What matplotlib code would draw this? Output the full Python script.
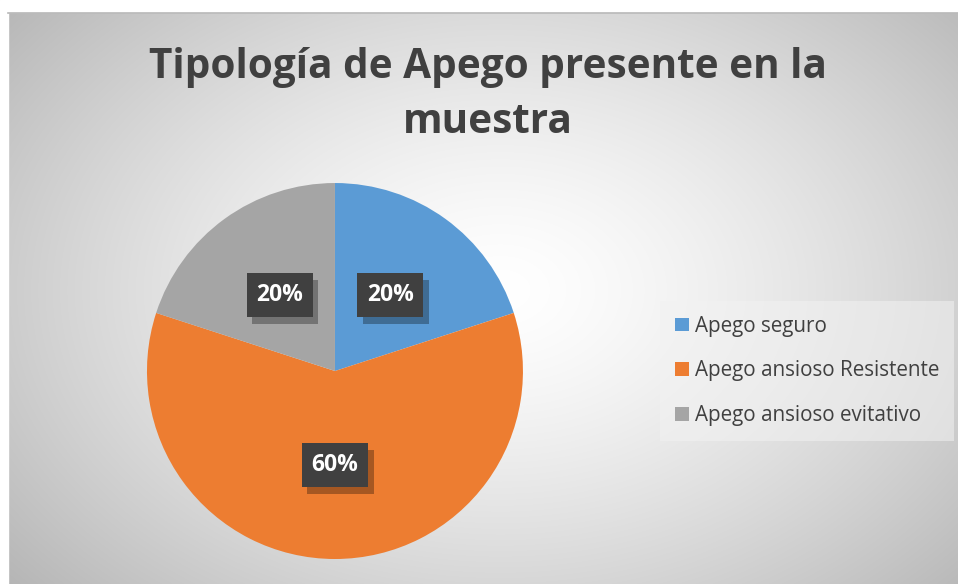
import numpy as np
import matplotlib.pyplot as plt
import matplotlib.patheffects as pe
from matplotlib.patches import Rectangle

# data
labels = ["Apego seguro", "Apego ansioso Resistente", "Apego ansioso evitativo"]
values = [20, 60, 20]
colors = ["#5B9BD5", "#ED7D31", "#A5A5A5"]
title = "Tipología de Apego presente en la\nmuestra"

plt.rcParams['font.family'] = ['Open Sans', 'DejaVu Sans']

fig = plt.figure(figsize=(9.58, 5.84), dpi=100)

# radial gradient background of the chart area
bg = fig.add_axes([0, 0, 1, 1])
yy, xx = np.mgrid[0:584, 0:958]
r = np.sqrt(((xx - 500) / 600.0) ** 2 + ((yy - 290) / 420.0) ** 2)
shade = 1.0 - 0.26 * np.clip(r, 0, 1.2) ** 1.4
img = np.dstack([shade, shade, shade])
bg.imshow(img, extent=[0, 958, 584, 0], aspect='auto', interpolation='bilinear')
bg.add_patch(Rectangle((0, 0), 958, 12, color='white', zorder=3))
bg.add_patch(Rectangle((0, 0), 8, 584, color='white', zorder=3))
bg.plot([8, 958], [12.5, 12.5], color='#b8b8b8', lw=1.2, zorder=4)
bg.set_xlim(0, 958)
bg.set_ylim(584, 0)
bg.axis('off')

fig.text(0.509, 0.837, title, ha='center', va='center', fontsize=29.2,
         fontweight='bold', color='#404040', linespacing=1.46)

ax = fig.add_axes([0.1534, 0.0428, 0.3925, 0.6438])
wedges, texts, autotexts = ax.pie(values, colors=colors, startangle=90,
                                  counterclock=False, autopct='%1.0f%%',
                                  pctdistance=0.5, radius=1)
ax.set_xlim(-1, 1)
ax.set_ylim(-1, 1)
ax.set_aspect('equal')

for t in autotexts:
    t.set_fontsize(16.5)
    t.set_fontweight('bold')
    t.set_color('white')
    t.set_bbox(dict(boxstyle='square,pad=0.42', fc='#404040', ec='none'))
    t.get_bbox_patch().set_path_effects([
        pe.SimplePatchShadow(offset=(4, -5), shadow_rgbFace='black', alpha=0.3),
        pe.Normal()])
    t.set_zorder(5)

leg = fig.legend(wedges, labels, loc='center left',
                 bbox_to_anchor=(0.689, 0.365), fontsize=14.9, frameon=True,
                 fancybox=False, framealpha=0.55, facecolor='#f2f2f2',
                 edgecolor='none', labelspacing=1.14, handlelength=0.66,
                 handleheight=0.66, handletextpad=0.3, borderpad=0.72,
                 borderaxespad=0)
for txt in leg.get_texts():
    txt.set_color('#404040')

fig.savefig('out.png', dpi=100)
